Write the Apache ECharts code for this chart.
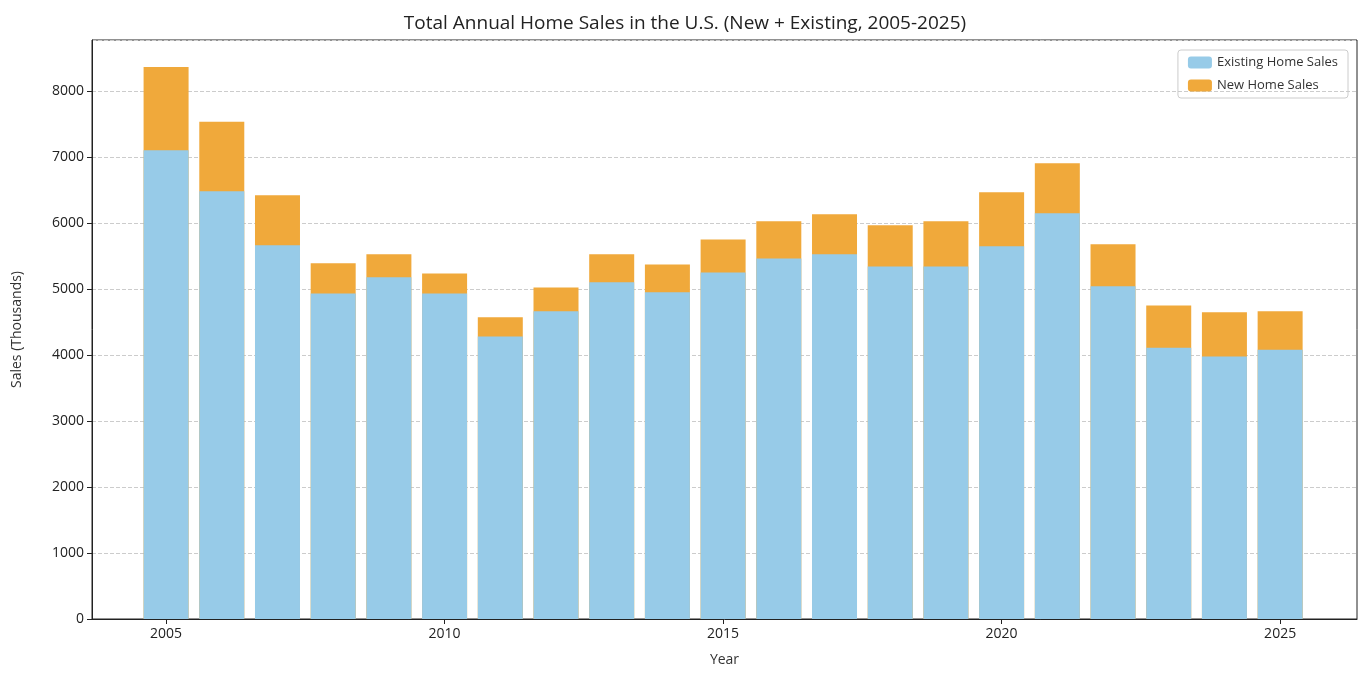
<!DOCTYPE html>
<html><head><meta charset="utf-8">
<script src="https://cdn.jsdelivr.net/npm/echarts@6/dist/echarts.min.js"></script>
<style>html,body{margin:0;background:#fff}#c{width:1370px;height:678px}</style>
</head><body><div id="c"></div>
<script>
const years = [2005,2006,2007,2008,2009,2010,2011,2012,2013,2014,2015,2016,2017,2018,2019,2020,2021,2022,2023,2024,2025];
const existingSales = [7100,6480,5660,4930,5175,4930,4280,4660,5100,4950,5250,5460,5525,5340,5340,5645,6145,5040,4110,3975,4080];
const newSales = [1260,1050,760,460,350,305,290,360,425,420,500,565,605,625,685,820,760,635,640,670,580];
const xTicks = [2005,2010,2015,2020,2025];
const font = "'Open Sans', sans-serif";
const chart = echarts.init(document.getElementById('c'));
chart.setOption({
  animation:false,
  textStyle:{fontFamily:font},
  title:{text:'Total Annual Home Sales in the U.S. (New + Existing, 2005-2025)',left:'center',top:9,
    textStyle:{fontFamily:font,fontSize:19,fontWeight:'normal',color:'#222'}},
  legend:{orient:'vertical',right:22,top:50,borderColor:'#ccc',borderWidth:1,borderRadius:3,padding:[6,10],
    itemWidth:24,itemHeight:12,itemGap:10,textStyle:{fontFamily:font,fontSize:13,color:'#333'},
    data:['Existing Home Sales','New Home Sales']},
  grid:{left:92,right:13,top:40,bottom:59,show:true,borderColor:'#222',borderWidth:1},
  xAxis:{type:'value',min:2003.67,max:2026.38,name:'Year',nameLocation:'middle',nameGap:34,
    nameTextStyle:{fontSize:14,color:'#333'},
    axisLine:{show:true,lineStyle:{color:'#222'}},splitLine:{show:false},
    axisTick:{show:true,customValues:xTicks,lineStyle:{color:'#222'}},
    axisLabel:{customValues:xTicks,fontSize:14,color:'#222',formatter:v=>String(v)}},
  yAxis:{type:'value',min:0,max:8770,interval:1000,name:'Sales (Thousands)',nameLocation:'middle',nameGap:68,
    nameTextStyle:{fontSize:14,color:'#333'},
    axisLine:{show:true,lineStyle:{color:'#222'}},axisTick:{show:true,lineStyle:{color:'#222'}},
    axisLabel:{fontSize:14,color:'#222',showMaxLabel:false,formatter:v=>String(v)},
    splitLine:{lineStyle:{type:'dashed',color:'#ccc'}}},
  series:[
    {name:'New Home Sales',type:'bar',barWidth:45,barGap:'-100%',itemStyle:{color:'#F0A93B'},z:1,
      data:years.map((y,i)=>[y,existingSales[i]+newSales[i]])},
    {name:'Existing Home Sales',type:'bar',barWidth:45,barGap:'-100%',itemStyle:{color:'#97CBE8'},z:2,
      data:years.map((y,i)=>[y,existingSales[i]])}
  ]
});
</script></body></html>
